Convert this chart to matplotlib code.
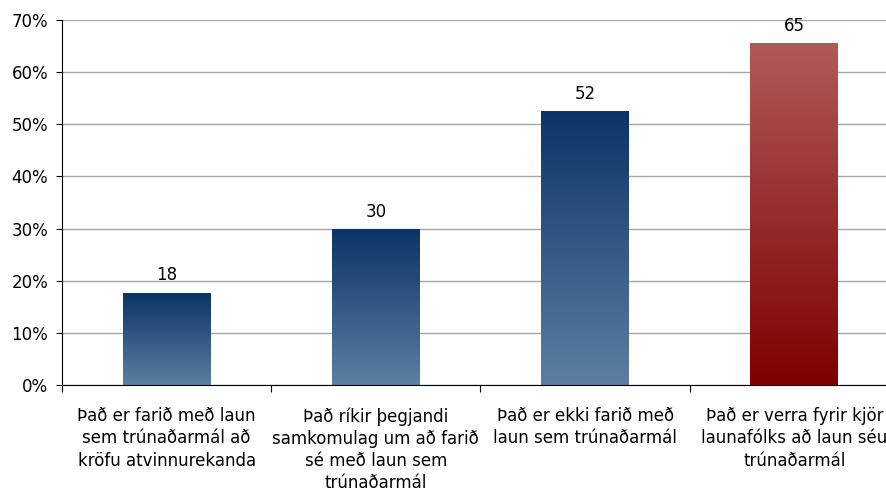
import matplotlib
matplotlib.use("Agg")
import matplotlib.pyplot as plt
from matplotlib.colors import LinearSegmentedColormap
import numpy as np

categories = [
    "Það er farið með laun\nsem trúnaðarmál að\nkröfu atvinnurekanda",
    "Það ríkir þegjandi\nsamkomulag um að farið\nsé með laun sem\ntrúnaðarmál",
    "Það er ekki farið með\nlaun sem trúnaðarmál",
    "Það er verra fyrir kjör\nlaunafólks að laun séu\ntrúnaðarmál",
]
values = [17.6, 29.8, 52.4, 65.4]
labels = ["18", "30", "52", "65"]
# gradient colours (top, bottom) for each bar
bar_colors = [
    ("#0b3466", "#5c7fa2"),
    ("#0b3466", "#5c7fa2"),
    ("#0b3466", "#5c7fa2"),
    ("#b05a5a", "#7e0000"),
]

plt.rcParams["font.family"] = ["DejaVu Sans"]

fig = plt.figure(figsize=(8.87, 4.88), dpi=100)
# axes runs a little past the right edge like the original
ax = fig.add_axes([62 / 887, 1 - 385 / 488, (899 - 62) / 887, (385 - 20) / 488])

x = np.arange(len(categories))
width = 0.42

grad = np.linspace(0, 1, 256).reshape(-1, 1)
for i, (v, (top, bot)) in enumerate(zip(values, bar_colors)):
    cmap = LinearSegmentedColormap.from_list("g%d" % i, [bot, top])
    ax.imshow(grad, cmap=cmap, origin="lower", aspect="auto",
              extent=[x[i] - width / 2, x[i] + width / 2, 0, v], zorder=2)
    ax.text(x[i], v + 1.7, labels[i], ha="center", va="bottom", fontsize=12)

ax.set_xlim(-0.5, len(categories) - 0.5)
ax.set_ylim(0, 70)

ax.set_yticks(range(0, 71, 10))
ax.set_yticklabels(["%d%%" % t for t in range(0, 71, 10)], fontsize=12)
ax.yaxis.grid(True, color="#a6a6a6", linewidth=1)
ax.set_axisbelow(True)

ax.set_xticks(np.arange(-0.5, len(categories), 1), minor=False)
ax.set_xticklabels([])
ax.set_xticks(x, minor=True)
ax.set_xticklabels(categories, minor=True, fontsize=12, linespacing=1.3)
ax.tick_params(axis="x", which="minor", length=0, pad=16)
ax.tick_params(axis="x", which="major", length=5, color="black")
ax.tick_params(axis="y", length=4, color="black", pad=6)

for s in ["top", "right"]:
    ax.spines[s].set_visible(False)
ax.spines["left"].set_color("black")
ax.spines["bottom"].set_color("black")

fig.savefig("out.png", dpi=100)
